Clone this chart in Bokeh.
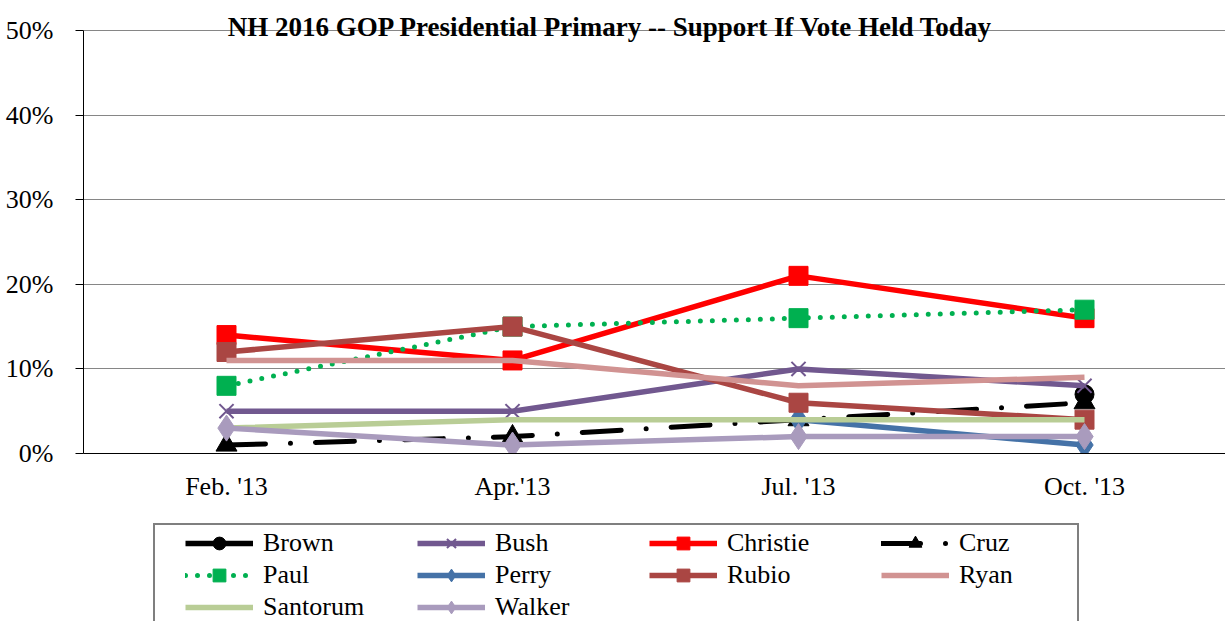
from bokeh.plotting import figure
from bokeh.layouts import column
from bokeh.models import Range1d, Label, Legend, LegendItem, FixedTicker
from bokeh.embed import file_html
from bokeh.resources import INLINE

nan = float("nan")

categories = ["Feb. '13", "Apr.'13", "Jul. '13", "Oct. '13"]
brown = [nan, nan, nan, 7]
bush = [5, 5, 10, 8]
christie = [14, 11, 21, 16]
cruz = [1, 2, 4, 6]
paul = [8, 15, 16, 17]
perry = [nan, nan, 4, 1]
rubio = [12, 15, 6, 4]
ryan = [11, 11, 8, 9]
santorum = [3, 4, 4, 4]
walker = [3, 1, 2, 2]
y_ticks = [0, 10, 20, 30, 40, 50]

FONT = "Liberation Serif"
xs = [i + 0.5 for i in range(len(categories))]

p = figure(width=1225, height=523, x_range=Range1d(0, 3.993), y_range=Range1d(0, 53.55),
           output_backend="svg", toolbar_location=None, title=None,
           min_border_left=83, min_border_right=0, min_border_top=0, min_border_bottom=70)
p.outline_line_color = None

# axes
p.yaxis.ticker = FixedTicker(ticks=y_ticks)
p.yaxis.major_label_overrides = {t: f"{t}%" for t in y_ticks}
p.yaxis.bounds = (0, 50)
p.yaxis.major_tick_out = 8
p.yaxis.major_tick_in = 0
p.yaxis.minor_tick_line_color = None
p.yaxis.axis_line_color = "black"
p.yaxis.major_tick_line_color = "black"
p.yaxis.major_label_standoff = 22
p.yaxis.major_label_text_font = FONT
p.yaxis.major_label_text_font_size = "26px"
p.yaxis.major_label_text_color = "black"

p.xaxis.ticker = FixedTicker(ticks=xs)
p.xaxis.major_label_overrides = {x: c for x, c in zip(xs, categories)}
p.xaxis.major_tick_out = 0
p.xaxis.major_tick_in = 0
p.xaxis.minor_tick_line_color = None
p.xaxis.axis_line_color = "black"
p.xaxis.major_label_standoff = 18
p.xaxis.major_label_text_font = FONT
p.xaxis.major_label_text_font_size = "26px"
p.xaxis.major_label_text_color = "black"

p.xgrid.grid_line_color = None
p.ygrid.ticker = FixedTicker(ticks=y_ticks)
p.ygrid.grid_line_color = "#868686"
p.ygrid.grid_line_width = 1

LW = 5.5
series = [
    ("Brown", brown, "black", None, "circle", 19),
    ("Bush", bush, "#71588F", None, "x", 20),
    ("Christie", christie, "#FF0000", None, "square", 19),
    ("Cruz", cruz, "black", "39 25 0 25", "triangle", 21),
    ("Paul", paul, "#00B050", "0 12", "square", 19),
    ("Perry", perry, "#4572A7", None, "diamond", 26),
    ("Rubio", rubio, "#AA4643", None, "square", 19),
    ("Ryan", ryan, "#D19392", None, None, 0),
    ("Santorum", santorum, "#B9CD96", None, None, 0),
    ("Walker", walker, "#A99BBD", None, "diamond", 26),
]


def draw(fig, xv, yv, color, dash, marker, size):
    rs = []
    kw = {}
    if dash:
        kw["line_dash"] = dash
        kw["line_cap"] = "round"
    rs.append(fig.line(x=xv, y=yv, line_color=color, line_width=(5 if dash else LW),
                       line_join="round", **kw))
    if marker:
        if marker == "x":
            rs.append(fig.scatter(x=xv, y=yv, marker="x", size=size, line_color=color,
                                  line_width=2))
        else:
            rs.append(fig.scatter(x=xv, y=yv, marker=marker, size=size, fill_color=color,
                                  line_color=color, line_width=1))
    return rs


for name, vals, color, dash, marker, size in series:
    draw(p, xs, vals, color, dash, marker, size)

# title
p.add_layout(Label(x=1.843, y=50.47,
                   text="NH 2016 GOP Presidential Primary -- Support If Vote Held Today",
                   text_align="center", text_baseline="alphabetic", text_font=FONT,
                   text_font_size="27px", text_font_style="bold", text_color="black"))

# legend strip below the chart (same series drawn out of view, only the legend shows)
lg = figure(width=1225, height=98, x_range=Range1d(0, 3.993), y_range=Range1d(1000, 1001),
            output_backend="svg", toolbar_location=None, title=None,
            x_axis_type=None, y_axis_type=None,
            min_border_left=83, min_border_right=0, min_border_top=0, min_border_bottom=0)
lg.grid.visible = False
lg.outline_line_color = None

items = []
for name, vals, color, dash, marker, size in series:
    rs = draw(lg, xs, vals, color, dash, marker, size)
    items.append(LegendItem(label=name, renderers=rs))

box_r = lg.line(x=xs, y=santorum, line_alpha=0)
box = Legend(items=[LegendItem(label=" ", renderers=[box_r])], location=(70, -4),
             glyph_width=0, glyph_height=98, label_width=922, label_height=98,
             label_standoff=0, padding=0, spacing=0, margin=0,
             border_line_color="black", border_line_width=2,
             background_fill_color="white", background_fill_alpha=1.0,
             label_text_font_size="1px")
lg.add_layout(box)

legend = Legend(items=items, location=(102, -2), orientation="horizontal", ncols=4,
                glyph_width=68, glyph_height=32, label_width=154, label_height=32,
                label_standoff=10, spacing=0, padding=0, margin=0,
                border_line_alpha=0, background_fill_alpha=0,
                label_text_font=FONT, label_text_font_size="26px",
                label_text_color="black", label_text_baseline="middle")
lg.add_layout(legend)

layout = column(p, lg, spacing=0)
open("out.html", "w").write(file_html(layout, INLINE))
